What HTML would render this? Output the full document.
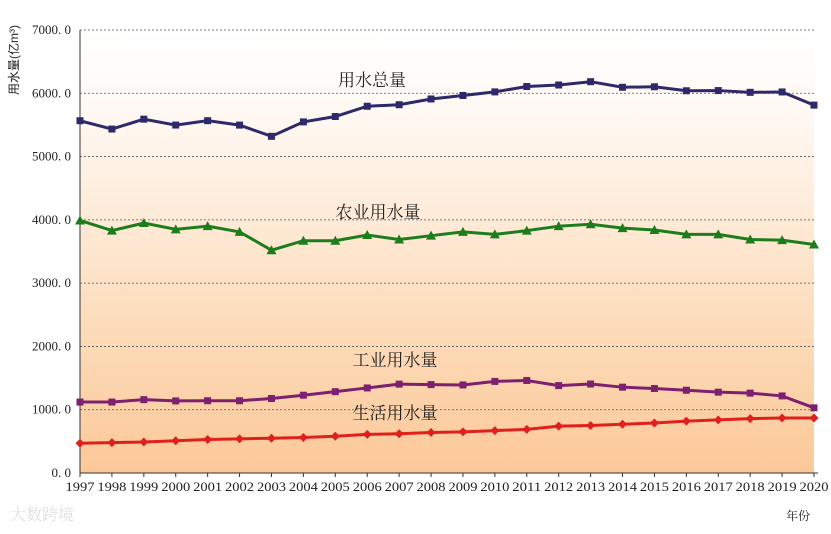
<!DOCTYPE html>
<html><head><meta charset="utf-8"><style>
body{margin:0;background:#fff;}
svg text{font-family:"Liberation Serif","Noto Serif CJK SC",serif;}
</style></head><body>
<svg width="831" height="529" xmlns="http://www.w3.org/2000/svg" id="chart">
<defs><linearGradient id="bg" x1="0" y1="0" x2="0" y2="1">
<stop offset="0" stop-color="#ffffff"/><stop offset="0.2" stop-color="#fff8f2"/><stop offset="0.6" stop-color="#fde0c2"/><stop offset="1" stop-color="#fcc898"/></linearGradient></defs>
<rect x="80" y="30" width="734" height="443" fill="url(#bg)"/>
<g id="grid"></g><g id="axes"></g><g id="series"></g>
<text transform="translate(18,60) rotate(-90)" text-anchor="middle" font-size="12" fill="#222" style="font-family:'Liberation Sans','Noto Sans CJK SC',sans-serif">用水量(亿m³)</text>
<text x="798" y="520" text-anchor="middle" font-size="12" fill="#222">年份</text>
<text x="372" y="86" text-anchor="middle" font-size="17" fill="#222">用水总量</text>
<text x="378" y="218" text-anchor="middle" font-size="17" fill="#222">农业用水量</text>
<text x="395" y="366" text-anchor="middle" font-size="17" fill="#222">工业用水量</text>
<text x="395" y="419" text-anchor="middle" font-size="17" fill="#222">生活用水量</text>
<text x="10" y="520" font-size="16" fill="#ddd">大数跨境</text>
</svg>
<script>
const years=[1997,1998,1999,2000,2001,2002,2003,2004,2005,2006,2007,2008,2009,2010,2011,2012,2013,2014,2015,2016,2017,2018,2019,2020];
const total=[5566,5435,5591,5498,5567,5497,5320,5548,5633,5795,5819,5910,5965,6022,6107,6131,6183,6095,6103,6040,6043,6015,6021,5813];
const agriculture=[3990,3830,3950,3850,3900,3810,3520,3670,3670,3760,3690,3750,3810,3770,3830,3900,3930,3870,3840,3770,3770,3690,3680,3610];
const industry=[1121,1121,1159,1139,1142,1142,1177,1229,1285,1344,1404,1397,1391,1447,1462,1381,1406,1356,1335,1308,1277,1262,1218,1030];
const domestic=[470,480,490,510,530,540,550,560,580,610,620,640,650,670,690,740,750,770,790,820,840,860,870,870];
const yTicks=[0,1000,2000,3000,4000,5000,6000,7000];
const yTickLabels=["0. 0","1000. 0","2000. 0","3000. 0","4000. 0","5000. 0","6000. 0","7000. 0"];
const NS="http://www.w3.org/2000/svg";
const X0=80,X1=814,Y0=473,Y1=30;
const x=i=>X0+i*(X1-X0)/(years.length-1);
const y=v=>Y0-(v/7000)*(Y0-Y1);
function mk(tag,attrs,parent){const e=document.createElementNS(NS,tag);for(const k in attrs)e.setAttribute(k,attrs[k]);parent.appendChild(e);return e;}
const grid=document.getElementById('grid'),axes=document.getElementById('axes'),ser=document.getElementById('series');
yTicks.forEach((t,i)=>{
 if(t>0){const l=mk('line',{x1:X0,x2:X1,y1:y(t),y2:y(t),stroke:'#555','stroke-width':0.8,'stroke-dasharray':'2,2'},grid);
 
 }
 const tx=mk('text',{x:71,y:y(t)+4,'text-anchor':'end','font-size':13,fill:'#222'},axes);tx.textContent=yTickLabels[i];
 
 
});
let a=mk('line',{x1:X0,x2:X0,y1:Y1,y2:Y0,stroke:'#333','stroke-width':1},axes);


a=mk('line',{x1:X0,x2:X1+4,y1:Y0,y2:Y0,stroke:'#333','stroke-width':1},axes);


years.forEach((yr,i)=>{
 const tk=mk('line',{x1:x(i),x2:x(i),y1:Y0,y2:Y0+4,stroke:'#333'},axes);
 
 
 const tx=mk('text',{x:x(i),y:491,'text-anchor':'middle','font-size':12.5,fill:'#222',textLength:29,lengthAdjust:'spacingAndGlyphs'},axes);tx.textContent=yr;
 
 
});
function draw(vals,color,shape,name){
 const p=mk('polyline',{points:vals.map((v,i)=>x(i)+','+y(v)).join(' '),fill:'none',stroke:color,'stroke-width':3},ser);
 
 
 vals.forEach((v,i)=>{
  const cx=x(i),cy=y(v);let m;
  if(shape==='sq')m=mk('rect',{x:cx-3.5,y:cy-3.5,width:7,height:7,fill:color},ser);
  else if(shape==='tri')m=mk('polygon',{points:`${cx},${cy-5} ${cx-5},${cy+4} ${cx+5},${cy+4}`,fill:color},ser);
  else m=mk('polygon',{points:`${cx},${cy-4.5} ${cx+4.5},${cy} ${cx},${cy+4.5} ${cx-4.5},${cy}`,fill:color},ser);
  
  
 });
}
draw(total,'#2d2a6c','sq','total');
draw(agriculture,'#1d7d1d','tri','agriculture');
draw(industry,'#7c206f','sq','industry');
draw(domestic,'#e0201c','dia','domestic');
</script>
</body></html>
